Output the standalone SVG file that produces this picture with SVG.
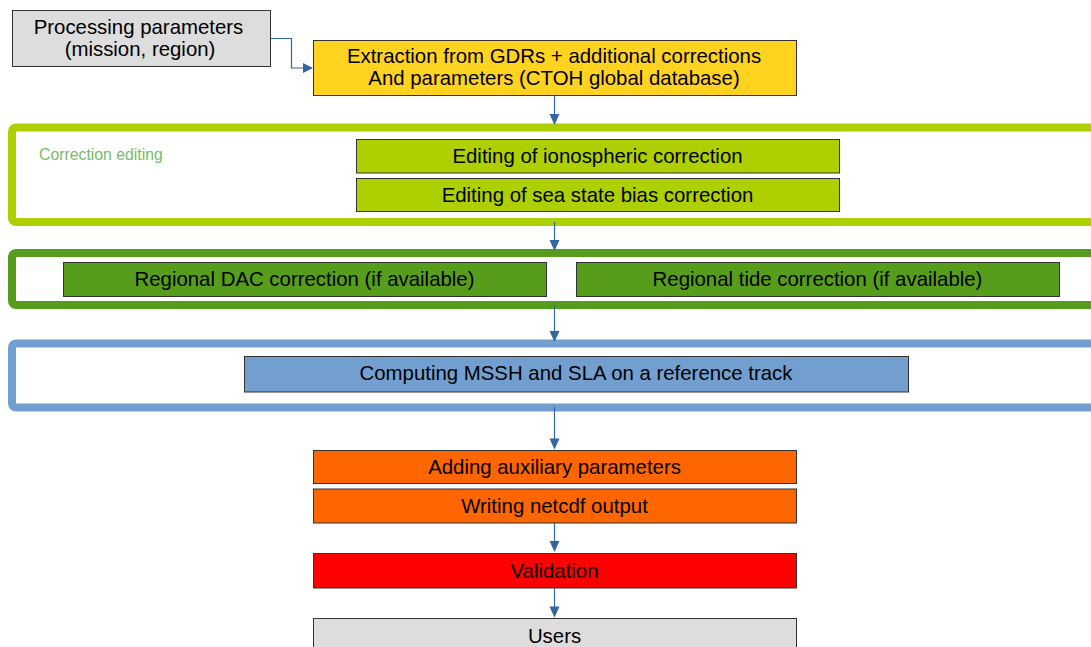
<svg xmlns="http://www.w3.org/2000/svg" width="1091" height="647" viewBox="0 0 1091 647">
<style>
text{font-family:"Liberation Sans",Arial,sans-serif;font-size:20.4px;fill:#000;text-anchor:middle}
.box{stroke:#333;stroke-width:1}
.frame{fill:#fff;stroke-width:8}
.conn{stroke:#3465a4;stroke-width:1.2;fill:none}
.ah{fill:#3465a4}
</style>
<rect width="1091" height="647" fill="#fff"/>
<g id="frame-correction-editing">
<rect class="frame" x="12" y="127.5" width="1100" height="94.5" rx="4" stroke="#aecf00"/>
<text x="39" y="160" style="font-size:15.8px;fill:#77bc65;text-anchor:start">Correction editing</text>
</g>
<g id="frame-regional">
<rect class="frame" x="12" y="253" width="1100" height="52" rx="4" stroke="#579d1c"/>
</g>
<g id="frame-computing">
<rect class="frame" x="12" y="343.5" width="1100" height="64" rx="4" stroke="#729fcf"/>
</g>
<g id="connectors">
<path class="conn" d="M270.5,38.5 H291.5 V68 H304"/>
<polygon class="ah" points="313,68 303,63 303,73"/>
<path class="conn" d="M554.5,96 V115"/>
<polygon class="ah" points="554.5,125 549.5,114 559.5,114"/>
<path class="conn" d="M554.5,222 V241"/>
<polygon class="ah" points="554.5,251 549.5,240 559.5,240"/>
<path class="conn" d="M554.5,305 V332"/>
<polygon class="ah" points="554.5,342 549.5,331 559.5,331"/>
<path class="conn" d="M554.5,407 V439"/>
<polygon class="ah" points="554.5,449.5 549.5,438.5 559.5,438.5"/>
<path class="conn" d="M554.5,523 V541"/>
<polygon class="ah" points="554.5,552 549.5,541 559.5,541"/>
<path class="conn" d="M554.5,588 V607"/>
<polygon class="ah" points="554.5,617.5 549.5,606.5 559.5,606.5"/>
</g>
<g id="processing-parameters">
<rect class="box" x="12.5" y="10.5" width="258" height="56" fill="#dddddd"/>
<text x="138.5" y="34">Processing parameters</text>
<text x="140" y="56">(mission, region)</text>
</g>
<g id="extraction">
<rect class="box" x="313.5" y="40.5" width="483" height="55" fill="#ffd320"/>
<text x="554" y="63">Extraction from GDRs + additional corrections</text>
<text x="554" y="85">And parameters (CTOH global database)</text>
</g>
<g id="ionospheric">
<rect class="box" x="356.5" y="139.5" width="483" height="33.5" fill="#aecf00"/>
<text x="597.5" y="163">Editing of ionospheric correction</text>
</g>
<g id="sea-state-bias">
<rect class="box" x="356.5" y="178.5" width="483" height="33" fill="#aecf00"/>
<text x="597.5" y="202">Editing of sea state bias correction</text>
</g>
<g id="regional-dac">
<rect class="box" x="63.5" y="262.5" width="483" height="34" fill="#579d1c"/>
<text x="304.5" y="286">Regional DAC correction (if available)</text>
</g>
<g id="regional-tide">
<rect class="box" x="576.5" y="262.5" width="483" height="34" fill="#579d1c"/>
<text x="817.5" y="286">Regional tide correction (if available)</text>
</g>
<g id="computing">
<rect class="box" x="244.5" y="356.5" width="664" height="35.5" fill="#729fcf"/>
<text x="576" y="380">Computing MSSH and SLA on a reference track</text>
</g>
<g id="adding-auxiliary">
<rect class="box" x="313.5" y="450.5" width="483" height="33" fill="#ff6600"/>
<text x="554.5" y="474">Adding auxiliary parameters</text>
</g>
<g id="writing-netcdf">
<rect class="box" x="313.5" y="489" width="483" height="34" fill="#ff6600"/>
<text x="554.5" y="513">Writing netcdf output</text>
</g>
<g id="validation">
<rect class="box" x="313.5" y="553.5" width="483" height="34.5" fill="#ff0000"/>
<text x="554.5" y="578">Validation</text>
</g>
<g id="users">
<rect class="box" x="313.5" y="618.5" width="483" height="40" fill="#dddddd"/>
<text x="554.5" y="643">Users</text>
</g>
</svg>
